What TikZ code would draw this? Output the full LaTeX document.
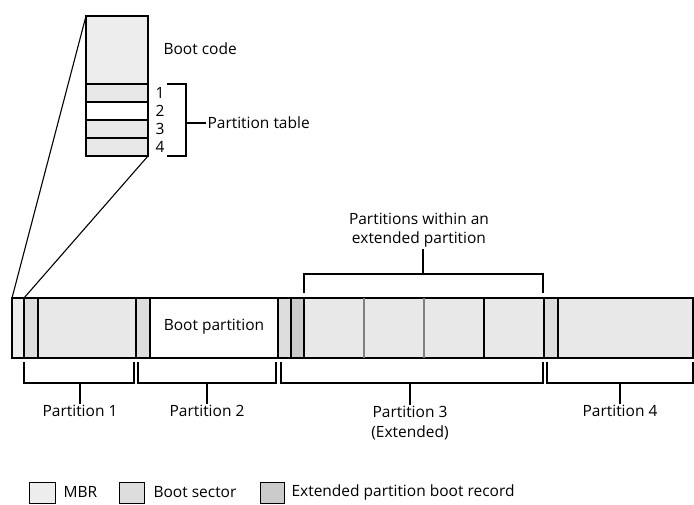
\documentclass[tikz,border=0pt]{standalone}
\usepackage{fontspec}
\setmainfont{Open Sans}
\usepackage{tikz}
\usepackage{xcolor}
\definecolor{mbrfill}{RGB}{237,237,237}
\definecolor{bootfill}{RGB}{221,221,221}
\definecolor{epbrfill}{RGB}{203,203,203}
\definecolor{partfill}{RGB}{232,232,232}
\tikzset{
    mbrbox/.style={draw,fill=mbrfill},
    bootbox/.style={draw,fill=bootfill},
    epbrbox/.style={draw,fill=epbrfill},
    partbox/.style={draw,fill=partfill},
    lbl/.style={inner sep=1pt}
}

\begin{document}
\begin{tikzpicture}[x=1pt,y=-1pt,line width=1.1pt,font=\fontsize{15.5}{19.5}\selectfont]
    \useasboundingbox (0,0) rectangle (694,504);
    % zoomed master boot record
    \draw[mbrbox] (86,16) rectangle (148,84);
    \draw[partbox] (86,84) rectangle (148,102);
    \draw[draw,fill=white] (86,102) rectangle (148,120);
    \draw[partbox] (86,120) rectangle (148,138);
    \draw[partbox] (86,138) rectangle (148,156);
    \node[lbl,anchor=west] (bootcode) at (162,49) {Boot code};
    \foreach \i/\y in {1/93,2/111,3/129,4/147}
        \node[lbl] (row\i) at (160,\y) {\i};
    \coordinate (tabtop) at (186,84);
    \coordinate (tabbot) at (186,156);
    \coordinate (tabmid) at (186,123);
    \node[lbl,anchor=west] (ptable) at (206,123) {Partition table};
    \draw (167,84) -- (tabtop) -- (tabbot) -- (167,156);
    \draw (tabmid) -- (ptable.west);
    % disk
    \coordinate (zoomtl) at (86,16);
    \coordinate (zoombr) at (148,156);
    \coordinate (mbrtl) at (12,298);
    \coordinate (mbrtr) at (24,298);
    \draw (zoomtl) -- (mbrtl);
    \draw (zoombr) -- (mbrtr);
    \draw[mbrbox] (12,298) rectangle (24,358);
    \draw[bootbox] (24,298) rectangle (38,358);
    \draw[partbox] (38,298) rectangle (136,358);
    \draw[bootbox] (136,298) rectangle (150,358);
    \draw[draw,fill=white] (150,298) rectangle (278,358);
    \node[lbl] (bootpart) at (214,327) {Boot partition};
    \draw[bootbox] (278,298) rectangle (291,358);
    \draw[epbrbox] (291,298) rectangle (304,358);
    \draw[partbox] (304,298) rectangle (544,358);
    \draw[gray] (364,298) -- (364,358);
    \draw[gray] (424,298) -- (424,358);
    \draw (484,298) -- (484,358);
    \draw[bootbox] (544,298) rectangle (558,358);
    \draw[partbox] (558,298) rectangle (693,358);
    % brackets
    \node[lbl,align=center] (within) at (419,230) {Partitions within an\\extended partition};
    \draw (304,293) -- (304,274) -- (543,274) -- (543,293);
    \draw (423,274) -- (within.south -| 423,0);
    \node[lbl] (p1) at (80,411) {Partition 1};
    \node[lbl] (p2) at (207,411) {Partition 2};
    \node[lbl,align=center] (p3) at (410,423) {Partition 3\\(Extended)};
    \node[lbl] (p4) at (620,411) {Partition 4};
    \draw (24,362) -- (24,383) -- (134,383) -- (134,362);
    \draw (138,362) -- (138,383) -- (276,383) -- (276,362);
    \draw (281,362) -- (281,383) -- (543,383) -- (543,362);
    \draw (547,362) -- (547,383) -- (693,383) -- (693,362);
    \draw (80,383) -- (p1.north);
    \draw (207,383) -- (p2.north);
    \draw (410,383) -- (p3.north);
    \draw (620,383) -- (p4.north);
    % legend
    \draw[mbrbox,line width=0.8pt] (29,482) rectangle (55,503);
    \node[lbl,anchor=west] (lgmbr) at (62,492) {MBR};
    \draw[bootbox,line width=0.8pt] (119,482) rectangle (144,503);
    \node[lbl,anchor=west] (lgboot) at (152,492) {Boot sector};
    \draw[epbrbox,line width=0.8pt] (260,482) rectangle (284,503);
    \node[lbl,anchor=west] (lgepbr) at (290,492) {Extended partition boot record};
\end{tikzpicture}
\end{document}
